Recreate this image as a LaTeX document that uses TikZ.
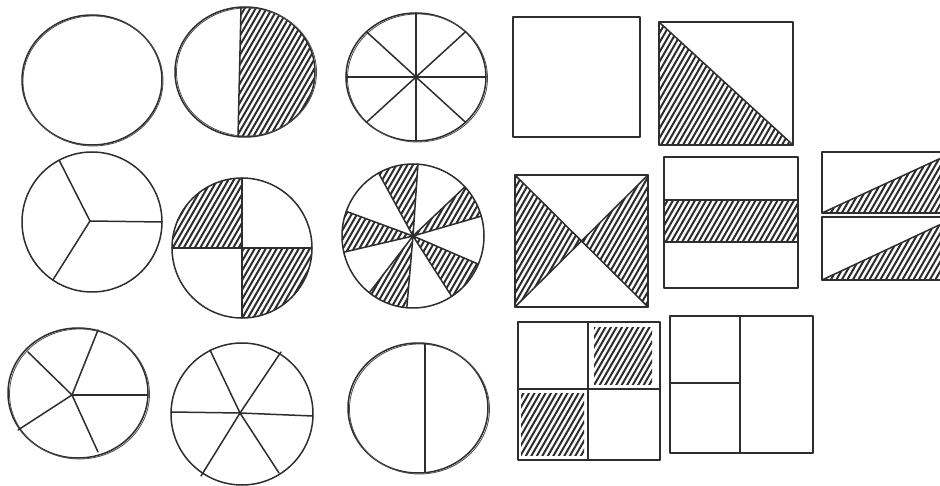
\documentclass[tikz,border=0pt]{standalone}
\usetikzlibrary{calc}
\tikzset{
  ink/.style={draw=black!82, line width=1.5pt, line cap=round, line join=round},
  inkthin/.style={draw=black!70, line width=0.8pt},
  hatchline/.style={draw=black!82, line width=2pt, line cap=round},
}
\newcommand\hatchin[1]{%
  \begin{scope}
    \clip #1;
    \foreach \t in {-300,-294.5,...,940} {\draw[hatchline] (\t,-486) -- ++(280,486);}
  \end{scope}}
\newcommand\hatchtwo[2]{%
  \begin{scope}
    \clip #1;
    \clip #2;
    \foreach \t in {-300,-294.5,...,940} {\draw[hatchline] (\t,-486) -- ++(280,486);}
  \end{scope}}
\begin{document}
\begin{tikzpicture}[x=1pt,y=1pt]
\useasboundingbox (0,0) rectangle (940,-486);
\fill[white] (0,0) rectangle (940,-486);

% ---------- Row 1 circles ----------
% C1 whole
\coordinate (c1) at (92,-80);
\draw[ink] (c1) ellipse [x radius=70, y radius=65];
\draw[inkthin] ($(c1)+(1,-1)$) ellipse [x radius=70, y radius=65];

% C2 halves, right half hatched
\coordinate (c2) at (245,-72);
\hatchtwo{(c2) ellipse [x radius=70, y radius=65]}{(241,-5) -- (238,-140) -- (330,-140) -- (330,-5) -- cycle}
\draw[ink] (c2) ellipse [x radius=70, y radius=65];
\draw[inkthin] ($(c2)+(1.5,0)$) ellipse [x radius=70, y radius=64];
\coordinate (c2t) at (241,-7.5);
\coordinate (c2b) at (238,-137);
\draw[ink] (c2t) -- (c2b);

% C3 eighths
\coordinate (c3) at (416,-77);
\draw[ink] (c3) ellipse [x radius=70, y radius=64];
\draw[inkthin] ($(c3)+(1.5,-1)$) ellipse [x radius=70, y radius=64];
\foreach \a in {0,45,90,135} {
  \draw[ink] ($(c3)+(\a:70 and 64)$) -- ($(c3)+(\a+180:70 and 64)$);
}

% ---------- Row 2 circles ----------
% C4 thirds
\coordinate (c4) at (92,-222);
\coordinate (h4) at (90,-221);
\draw[ink] (c4) ellipse [x radius=70, y radius=70];
\foreach \a in {118,0,236} { \draw[ink] (h4) -- ($(c4)+(\a:70 and 70)$); }

% C5 quarters, TL and BR hatched
\coordinate (c5) at (242,-248);
\hatchtwo{(c5) ellipse [x radius=70, y radius=70]}{(242,-248) rectangle (160,-170)}
\hatchtwo{(c5) ellipse [x radius=70, y radius=70]}{(242,-248) rectangle (320,-330)}
\draw[ink] (c5) ellipse [x radius=70, y radius=70];
\draw[ink] ($(c5)+(90:70 and 70)$) -- ($(c5)+(270:70 and 70)$);
\draw[ink] ($(c5)+(180:70 and 70)$) -- ($(c5)+(0:70 and 70)$);

% C6 tenths, alternate sectors hatched
\coordinate (c6) at (413,-236);
\foreach \a/\b in {86/119,160/193,232/265,303/337,16/43} {
  \hatchin{(c6) -- ++(\a:71 and 72) arc[start angle=\a, end angle=\b, x radius=71, y radius=72] -- cycle}
}
\draw[ink] (c6) ellipse [x radius=71, y radius=72];
\foreach \a in {86,119,160,193,232,265,303,337,16,43} { \draw[ink] (c6) -- ++(\a:71 and 72); }

% ---------- Row 3 circles ----------
% C7 fifths
\coordinate (c7) at (78,-393);
\coordinate (h7) at (72,-395);
\draw[ink] (c7) ellipse [x radius=70, y radius=65];
\draw[inkthin] ($(c7)+(1.5,-1)$) ellipse [x radius=70, y radius=65];
\foreach \p in {(98,-330),(28,-352),(18,-430),(98,-452),(148,-395)} { \draw[ink] (h7) -- \p; }

% C8 sixths
\coordinate (c8) at (242,-414);
\coordinate (h8) at (240,-413);
\draw[ink] (c8) ellipse [x radius=71, y radius=71];
\draw[ink] (171,-412) -- (h8) -- (313,-416);
\draw[ink] (210,-350) -- (h8) -- (279,-473);
\draw[ink] (281,-352) -- (h8) -- (201,-476);

% C9 halves
\coordinate (c9) at (418,-408);
\draw[ink] (c9) ellipse [x radius=70, y radius=65];
\draw[inkthin] ($(c9)+(1.5,-1)$) ellipse [x radius=70, y radius=65];
\draw[ink] (425,-343.5) -- (425,-472.5);

% ---------- Squares ----------
% S1 whole
\draw[ink] (513,-17) rectangle (640,-137);

% S2 diagonal, lower-left hatched
\hatchin{(659,-22) -- (659,-145) -- (793,-145) -- cycle}
\draw[ink] (659,-22) rectangle (793,-145);
\draw[ink] (659,-22) -- (793,-145);

% S3 X, left and right triangles hatched
\coordinate (s3m) at (581.5,-241);
\hatchin{(515,-175) -- (s3m) -- (515,-307) -- cycle}
\hatchin{(648,-175) -- (s3m) -- (648,-307) -- cycle}
\draw[ink] (515,-175) rectangle (648,-307);
\draw[ink] (515,-175) -- (648,-307);
\draw[ink] (648,-175) -- (515,-307);

% S4 three strips, middle hatched
\hatchin{(664,-200) rectangle (798,-242)}
\draw[ink] (664,-157) rectangle (798,-288);
\draw[ink] (664,-200) -- (798,-200);
\draw[ink] (664,-242) -- (798,-242);

% S5 two strips cut by the edge
\begin{scope}
  \clip (0,0) rectangle (940,-486);
  \hatchin{(822,-213) -- (952,-153) -- (952,-213) -- cycle}
  \hatchin{(822,-280) -- (952,-219) -- (952,-280) -- cycle}
  \draw[ink] (822,-152) rectangle (952,-213);
  \draw[ink] (822,-217) rectangle (952,-280);
  \draw[ink] (822,-213) -- (952,-153);
  \draw[ink] (822,-280) -- (952,-219);
\end{scope}

% S6 2x2, TR and BL hatched
\hatchin{(594,-328) rectangle (652,-384)}
\hatchin{(521,-393) rectangle (584,-455)}
\draw[ink] (518,-322) rectangle (660,-460);
\draw[ink] (588,-322) -- (588,-460);
\draw[ink] (518,-389) -- (660,-389);

% S7 half + two quarters
\draw[ink] (670,-316) rectangle (813,-453);
\draw[ink] (740,-316) -- (740,-453);
\draw[ink] (670,-383) -- (740,-383);
\end{tikzpicture}
\end{document}
